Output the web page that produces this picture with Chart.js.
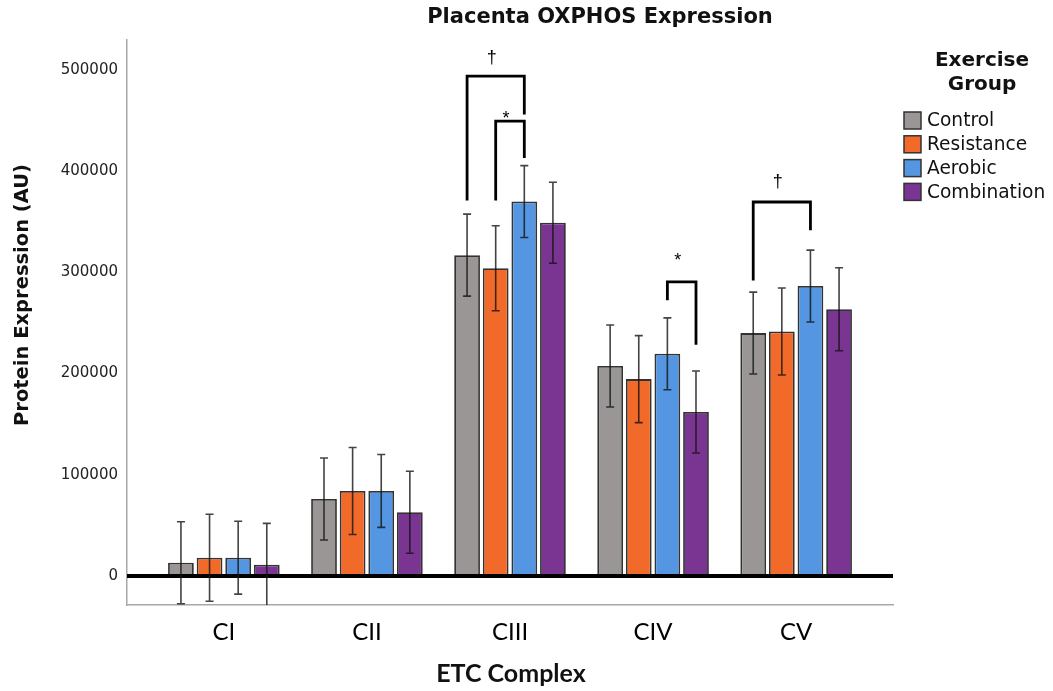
<!DOCTYPE html>
<html><head><meta charset="utf-8">
<script src="https://cdn.jsdelivr.net/npm/chart.js@4/dist/chart.umd.min.js"></script>
<style>html,body{margin:0;padding:0;background:#fff;}#wrap{width:1053px;height:691px;position:relative;}</style>
</head><body><div id="wrap"><canvas id="c" width="1053" height="691"></canvas></div>
<script>
// ---- data ----
const categories = ['CI', 'CII', 'CIII', 'CIV', 'CV'];
const groups = ['Control', 'Resistance', 'Aerobic', 'Combination'];
const control = [13000, 76000, 317000, 207500, 240000];
const controlErr = [40500, 40500, 40500, 40500, 40500];
const resistance = [18000, 84000, 304000, 194500, 241500];
const resistanceErr = [43000, 43000, 42000, 43000, 43000];
const aerobic = [18000, 84000, 370000, 219500, 286500];
const aerobicErr = [36000, 36000, 35500, 35500, 35500];
const combination = [11000, 63000, 349000, 162000, 263500];
const combinationErr = [41000, 40500, 40000, 40500, 41000];
const yTicks = [0, 100000, 200000, 300000, 400000, 500000];
// significance brackets (values in data units)
const bracketCats = [2, 2, 3, 4];
const bracketFrom = [0, 1, 2, 0];
const bracketTo = [2, 2, 3, 2];
const bracketTop = [494000, 449500, 290500, 369500];
const bracketLeftEnd = [371000, 371000, 272500, 292000];
const bracketRightEnd = [456000, 413000, 228500, 341500];
const bracketLabel = ['\u2020', '*', '*', '\u2020'];
const bracketLabelY = [512000, 452000, 311500, 389000];

const colors = ['#9a9695', '#f26a2a', '#5496e1', '#7a3593'];
const seriesVals = [control, resistance, aerobic, combination];
const seriesErrs = [controlErr, resistanceErr, aerobicErr, combinationErr];

const datasets = groups.map((g, k) => ({
  label: g,
  data: seriesVals[k].map((v, i) => ({x: i, y: v})),
  backgroundColor: colors[k],
  borderColor: '#333333',
  borderWidth: 1.8,
  categoryPercentage: 0.8,
  barPercentage: 0.9
}));

const overlay = {
  id: 'overlay',
  afterDatasetsDraw(chart) {
    const ctx = chart.ctx, ys = chart.scales.y, a = chart.chartArea;
    ctx.save();
    // zero line
    const y0 = ys.getPixelForValue(0);
    ctx.strokeStyle = '#000'; ctx.lineWidth = 4;
    ctx.beginPath(); ctx.moveTo(a.left, y0); ctx.lineTo(a.right, y0); ctx.stroke();
    // error bars
    ctx.beginPath(); ctx.rect(a.left, a.top, a.right - a.left, a.bottom - a.top); ctx.clip();
    ctx.strokeStyle = 'rgba(20,20,20,0.8)'; ctx.lineWidth = 1.6;
    seriesVals.forEach((vals, k) => {
      const meta = chart.getDatasetMeta(k);
      vals.forEach((v, i) => {
        const x = meta.data[i].x;
        const hi = ys.getPixelForValue(v + seriesErrs[k][i]);
        const lo = ys.getPixelForValue(v - seriesErrs[k][i]);
        ctx.beginPath();
        ctx.moveTo(x, hi); ctx.lineTo(x, lo);
        ctx.moveTo(x - 4, hi); ctx.lineTo(x + 4, hi);
        ctx.moveTo(x - 4, lo); ctx.lineTo(x + 4, lo);
        ctx.stroke();
      });
    });
    ctx.restore();
    // brackets
    ctx.save();
    ctx.strokeStyle = '#000'; ctx.lineWidth = 2.8; ctx.lineCap = 'butt';
    ctx.fillStyle = '#000';
    ctx.font = '18px "Liberation Sans", sans-serif';
    ctx.textAlign = 'center'; ctx.textBaseline = 'middle';
    bracketCats.forEach((c, j) => {
      const xl = chart.getDatasetMeta(bracketFrom[j]).data[c].x;
      const xr = chart.getDatasetMeta(bracketTo[j]).data[c].x;
      const yt = ys.getPixelForValue(bracketTop[j]);
      ctx.beginPath();
      ctx.moveTo(xl, ys.getPixelForValue(bracketLeftEnd[j]));
      ctx.lineTo(xl, yt); ctx.lineTo(xr, yt);
      ctx.lineTo(xr, ys.getPixelForValue(bracketRightEnd[j]));
      ctx.stroke();
      ctx.fillText(bracketLabel[j], (xl + xr) / 2 - 4, ys.getPixelForValue(bracketLabelY[j]));
    });
    ctx.restore();
  },
  afterDraw(chart) {
    const ctx = chart.ctx;
    ctx.save();
    ctx.fillStyle = '#111';
    ctx.textAlign = 'center'; ctx.textBaseline = 'middle';
    // title
    ctx.font = 'bold 21px "DejaVu Sans", sans-serif';
    ctx.fillText('Placenta OXPHOS Expression', 600, 18);
    // axis titles
    ctx.font = 'bold 25px Lato, sans-serif';
    ctx.fillText('ETC Complex', 511, 674);
    ctx.save();
    ctx.translate(23, 295); ctx.rotate(-Math.PI / 2);
    ctx.font = 'bold 19.5px "DejaVu Sans", sans-serif';
    ctx.fillText('Protein Expression (AU)', 0, 0);
    ctx.restore();
    // legend
    ctx.font = 'bold 20px "DejaVu Sans", sans-serif';
    ctx.fillText('Exercise', 982, 61);
    ctx.fillText('Group', 982, 85);
    ctx.textAlign = 'left';
    ctx.font = '18.6px "DejaVu Sans", sans-serif';
    groups.forEach((g, k) => {
      const yc = 120.5 + k * 23.8;
      ctx.fillStyle = colors[k];
      ctx.fillRect(904, yc - 8.5, 17, 17);
      ctx.strokeStyle = '#333'; ctx.lineWidth = 1.5;
      ctx.strokeRect(904, yc - 8.5, 17, 17);
      ctx.fillStyle = '#111';
      ctx.fillText(g, 927, yc + 1);
    });
    ctx.restore();
  }
};

new Chart(document.getElementById('c'), {
  type: 'bar',
  data: {datasets},
  options: {
    responsive: false,
    animation: false,
    devicePixelRatio: 1,
    layout: {padding: {top: 40, right: 160, left: 0, bottom: 0}},
    plugins: {legend: {display: false}, title: {display: false}, tooltip: {enabled: false}},
    scales: {
      x: {
        type: 'linear', min: -0.677, max: 4.677, offset: false,
        afterBuildTicks: s => { s.ticks = categories.map((_, i) => ({value: i})); },
        afterFit: s => { s.height = 86; },
        grid: {display: false, drawTicks: false},
        border: {display: true, color: '#a8a8a8', width: 1.5},
        ticks: {
          callback: v => categories[v] ?? '',
          font: {family: 'Lato, sans-serif', size: 24},
          color: '#000', padding: 13, maxRotation: 0, autoSkip: false
        }
      },
      y: {
        min: -28700, max: 529600,
        afterBuildTicks: s => { s.ticks = yTicks.map(v => ({value: v})); },
        afterFit: s => { s.width = 127; },
        grid: {display: false, drawTicks: false},
        border: {display: true, color: '#a8a8a8', width: 1.5},
        ticks: {
          callback: v => String(v),
          font: {family: '"DejaVu Sans", sans-serif', size: 15},
          color: '#222', padding: 9
        }
      }
    }
  },
  plugins: [overlay]
});
</script></body></html>
